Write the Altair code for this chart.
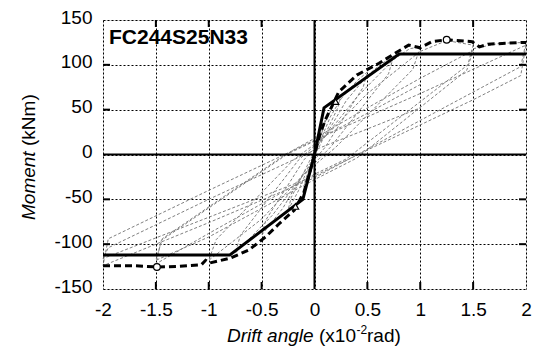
import altair as alt
import pandas as pd

# ---------------- data ----------------
# idealised skeleton curve (solid)
skel_x = [-2.0, -0.8, -0.11, 0.0, 0.09, 0.8, 2.0]
skel_y = [-112, -112, -50, 0, 52, 112, 112]

# experimental envelope (thick dashed)
exp_x = [-2.0, -1.71, -1.49, -1.31, -1.07, -1.03, -0.99, -0.80, -0.62, -0.46,
         -0.33, -0.19, -0.10, -0.05, 0.0, 0.05, 0.10, 0.23, 0.40, 0.61,
         0.76, 0.89, 1.0, 1.11, 1.25, 1.49, 1.56, 1.64, 1.96, 2.0]
exp_y = [-124, -124, -125.5, -125, -123, -118, -121, -115.7, -106.5, -91.6,
         -76.7, -61.9, -42, -22, 0, 22, 38, 70, 88.6, 101.7,
         112.8, 122, 119, 125.8, 128, 125.8, 120, 123, 125, 125]

# peak markers (open circles) and first-yield markers (open triangles)
peak_x = [1.25, -1.49]
peak_y = [128, -125.5]
tri_x = [0.2, -0.18]
tri_y = [59, -58]

# hysteresis loops (thin grey dashed), one list per amplitude
c1_x = [0.0, 0.05, 0.10, 0.08, 0.0, -0.05, -0.10, -0.08, 0.0, 0.10]
c1_y = [0, 22, 38, 28, 2, -18, -36, -26, -2, 36]
c2_x = [0.10, 0.18, 0.25, 0.22, 0.05, -0.05, -0.15, -0.25, -0.22, -0.05, 0.05, 0.15, 0.25]
c2_y = [36, 55, 66, 52, 10, -12, -40, -62, -48, -8, 14, 42, 62]
c3_x = [0.25, 0.40, 0.50, 0.46, 0.10, -0.10, -0.30, -0.50, -0.46, -0.10, 0.10, 0.30, 0.50]
c3_y = [62, 82, 92, 75, 8, -20, -60, -90, -73, -6, 20, 60, 88]
c4_x = [0.50, 0.62, 0.75, 0.70, 0.15, -0.10, -0.40, -0.75, -0.70, -0.15, 0.10, 0.40, 0.75]
c4_y = [88, 100, 110, 90, 8, -22, -68, -110, -90, -6, 20, 64, 106]
c5_x = [0.75, 0.90, 1.0, 0.93, 0.20, -0.10, -0.50, -1.0, -0.93, -0.20, 0.10, 0.50, 1.0]
c5_y = [106, 118, 120, 95, 8, -22, -72, -118, -95, -6, 20, 68, 115]
c6_x = [1.0, 1.25, 1.5, 1.45, 0.30, 0.0, -0.5, -1.0, -1.5, -1.45, -0.20, 0.0, 0.5, 1.0, 1.5,
        1.44, 0.40, 0.0, -0.5, -1.0, -1.5, -1.44, -0.30, 0.0, 0.5, 1.0]
c6_y = [115, 127, 122, 100, -5, -22, -55, -88, -122, -96, 5, 18, 52, 85, 116,
        94, -4, -28, -60, -92, -118, -94, -2, 15, 46, 78]
c7_x = [1.5, 1.75, 2.0, 1.95, 1.0, 0.17, 0.0, -1.0, -2.0, -1.95, -1.0, -0.05, 0.0, 1.0, 2.0,
        1.95, 1.5, 0.5, 0.0, -1.0, -2.0, -1.95, -1.0, 0.0, 1.0]
c7_y = [118, 124, 125, 98, 38, -15, -26, -76, -124, -94, -40, 13, 16, 68, 122,
        88, 61, 5, -24, -70, -116, -104, -50, 5, 52]

x_ticks = [-1.5, -1.0, -0.5, 0.5, 1.0, 1.5]
y_ticks = [-100, -50, 50, 100]
x_vals = [-2, -1.5, -1, -0.5, 0, 0.5, 1, 1.5, 2]
y_vals = [-150, -100, -50, 0, 50, 100, 150]

# ---------------- chart ----------------
W, H = 423, 269
FONT = "Liberation Sans"

loops = []
for i, (xs, ys) in enumerate([(c1_x, c1_y), (c2_x, c2_y), (c3_x, c3_y), (c4_x, c4_y),
                              (c5_x, c5_y), (c6_x, c6_y), (c7_x, c7_y)]):
    for k, (a, b) in enumerate(zip(xs, ys)):
        loops.append({"x": a, "y": b, "cyc": i, "o": k})
loops = pd.DataFrame(loops)

skel = pd.DataFrame({"x": skel_x, "y": skel_y, "o": range(len(skel_x))})
exp = pd.DataFrame({"x": exp_x, "y": exp_y, "o": range(len(exp_x))})
peaks = pd.DataFrame({"x": peak_x, "y": peak_y})
tris = pd.DataFrame({"x": tri_x, "y": tri_y})

hyphen_g = "datum.value < 0 ? '-' + format(-datum.value, '~g') : format(datum.value, '~g')"

xscale = alt.Scale(domain=[-2, 2], nice=False, zero=False)
yscale = alt.Scale(domain=[-150, 150], nice=False, zero=False)
xaxis = alt.Axis(values=x_vals, labelExpr=hyphen_g, grid=True, gridDash=[2, 2], gridColor="black",
                 gridWidth=1, gridOpacity=1, domain=False, ticks=False, tickSize=0,
                 labelPadding=11, labelFont=FONT, labelFontSize=19, labelColor="black",
                 title=None, labelFlush=False)
yaxis = alt.Axis(values=y_vals, labelExpr=hyphen_g, grid=True, gridDash=[2, 2], gridColor="black",
                 gridWidth=1, gridOpacity=1, domain=False, ticks=False, tickSize=0,
                 labelPadding=11, labelFont=FONT, labelFontSize=19, labelColor="black",
                 title=None, labelOffset=-3, labelFlush=False)


def X(f="x"):
    return alt.X(f"{f}:Q", scale=xscale, axis=xaxis)


def Y(f="y"):
    return alt.Y(f"{f}:Q", scale=yscale, axis=yaxis)


loop_layer = alt.Chart(loops).mark_line(color="#808080", strokeWidth=1, strokeDash=[3, 2]).encode(
    x=X(), y=Y(), detail="cyc:N", order="o:Q")

zero_v = alt.Chart(pd.DataFrame({"x": [0.0]})).mark_rule(color="black", strokeWidth=2).encode(x=X())
zero_h = alt.Chart(pd.DataFrame({"y": [0.0]})).mark_rule(color="black", strokeWidth=2).encode(y=Y())

skel_layer = alt.Chart(skel).mark_line(color="black", strokeWidth=3).encode(x=X(), y=Y(), order="o:Q")
exp_layer = alt.Chart(exp).mark_line(color="black", strokeWidth=3, strokeDash=[7, 4]).encode(
    x=X(), y=Y(), order="o:Q")

peak_layer = alt.Chart(peaks).mark_point(shape="circle", size=45, filled=True, fill="white",
                                         stroke="black", strokeWidth=1.2, opacity=1).encode(x=X(), y=Y())
tri_layer = alt.Chart(tris).mark_point(shape="triangle-up", size=40, filled=True, fill="white",
                                       stroke="black", strokeWidth=1.2, opacity=1).encode(x=X(), y=Y())

xt = pd.DataFrame({"x": x_ticks})
yt = pd.DataFrame({"y": y_ticks})
tick_b = alt.Chart(xt).mark_rule(color="black", strokeWidth=2).encode(x=X(), y=alt.value(H - 7), y2=alt.value(H))
tick_t = alt.Chart(xt).mark_rule(color="black", strokeWidth=2).encode(x=X(), y=alt.value(0), y2=alt.value(7))
tick_l = alt.Chart(yt).mark_rule(color="black", strokeWidth=2).encode(y=Y(), x=alt.value(0), x2=alt.value(7))
tick_r = alt.Chart(yt).mark_rule(color="black", strokeWidth=2).encode(y=Y(), x=alt.value(W - 7), x2=alt.value(W))


def label(txt, x, y, size=19, style="normal", weight="normal", angle=0, align="left"):
    return alt.Chart(pd.DataFrame({"t": [txt]})).mark_text(
        font=FONT, fontSize=size, fontStyle=style, fontWeight=weight, angle=angle,
        align=align, baseline="alphabetic", color="black").encode(
        text="t:N", x=alt.value(x), y=alt.value(y))


title_box = label("FC244S25N33", 6, 24, size=21, weight="bold")

# x-axis title pieces
xt1 = label("Drift angle", 124, 322, style="italic")
xt2 = label("(x10", 216, 322)
xt3 = label("-2", 253.5, 314, size=12)
xt4 = label("rad)", 264, 322)

# y-axis title pieces (rotated)
yt1 = label("Moment", -68, 200, style="italic", angle=270)
yt2 = label("(kNm)", -68, 126, angle=270)

chart = alt.layer(
    loop_layer, zero_v, zero_h, skel_layer, exp_layer, peak_layer, tri_layer,
    tick_b, tick_t, tick_l, tick_r, title_box, xt1, xt2, xt3, xt4, yt1, yt2
).properties(
    width=W, height=H,
    padding={"left": 95, "top": 12, "right": 6, "bottom": 57},
    autosize=alt.AutoSizeParams(type="none"),
).configure_view(
    stroke="black", strokeWidth=2
).configure(background="white")

chart.save("out.html", embed_options={"renderer": "svg", "actions": False})
